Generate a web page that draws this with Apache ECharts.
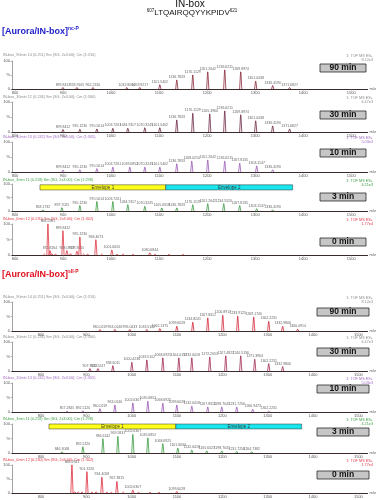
<!DOCTYPE html>
<html><head><meta charset="utf-8">
<script src="https://cdn.jsdelivr.net/npm/echarts@6/dist/echarts.min.js"></script>
<style>html,body{margin:0;padding:0;background:#fff}#c{width:377px;height:500px}</style>
</head><body><div id="c"></div>
<script>
// ---------- data ----------
const mzTicks = [800, 900, 1000, 1100, 1200, 1300, 1400, 1500];
const yTicks = [0, 50, 100];
const timeLabels = ['90 min', '30 min', '10 min', '3 min', '0 min'];
const envelopeNames = ['Envelope 1', 'Envelope 2'];

// [Aurora/IN-box]nc-P  (m/z, relative intensity %)
const nc90 = [[899.8412,5],[928.9105,5],[962.2316,5],[1032.8054,5],[1059.9217,5],[1101.5402,15],[1136.7833,32],[1170.1129,50],[1201.2642,61],[1236.6211,68],[1269.8974,61],[1301.0438,28],[1336.4190,12],[1371.6827,5]];
const nc30 = [[899.8412,8],[935.1230,9],[970.5014,10],[1003.7261,12],[1034.9117,12],[1070.3245,14],[1101.5402,14],[1136.7833,40],[1170.1129,62],[1205.3960,60],[1236.6211,70],[1269.8974,57],[1301.0438,37],[1336.4190,20],[1371.6827,10]];
const nc10 = [[899.8412,6],[935.1230,7],[970.5014,11],[1003.7261,16],[1039.0852,16],[1070.3245,16],[1101.5402,16],[1136.7833,27],[1168.0210,36],[1201.2642,40],[1236.6211,36],[1267.8135,29],[1303.1147,20],[1336.4190,7]];
const nc3 = [[858.1732,4],[897.7025,12],[935.1230,20],[970.5014,35],[1003.7261,35],[1034.9117,23],[1070.3245,17],[1105.6318,11],[1136.7833,11],[1170.1129,23],[1201.2642,27],[1234.5520,27],[1267.8135,20],[1303.1147,8],[1336.4190,4]];
const nc0 = [[868.5981,100],[872.8264,14],[899.8412,78],[908.0917,14],[928.9105,12],[935.1230,58],[968.4073,49],[1001.6620,16],[1080.6844,7]];
const nc0Minor = [[861.2,3],[876.5,4],[884.3,3],[915.6,4],[942.8,3],[951.2,3],[980.4,3],[1012.7,2],[1025.3,3],[1046.1,2],[1091.5,2],[1120.4,2],[1150.2,2]];
const ncEnvelopes = [[852.0,1113.9],[1113.9,1378.0]];

// [Aurora/IN-box]sII-P
const s90 = [[930.0219,5],[963.0146,5],[996.0433,5],[1033.5102,5],[1062.1375,8],[1099.6028,16],[1134.8241,30],[1167.8312,45],[1200.8917,54],[1233.9125,51],[1269.1740,48],[1302.2231,33],[1332.9806,16],[1366.0914,6]];
const s30 = [[907.9132,8],[925.5247,8],[958.6011,18],[1000.4236,30],[1033.5102,38],[1068.6925,45],[1104.0157,45],[1132.6418,45],[1172.2053,48],[1207.4827,52],[1240.5136,52],[1271.3904,40],[1302.2231,25],[1332.9806,15]];
const s10 = [[857.2845,3],[892.5120,4],[930.0219,11],[963.0146,24],[1002.6307,31],[1035.6852,37],[1068.6925,30],[1099.6028,24],[1132.6418,20],[1167.8312,17],[1198.7041,17],[1231.7256,17],[1266.9473,9],[1302.2231,3]];
const s3 = [[846.3068,4],[892.5120,21],[936.6142,49],[969.5831,57],[1002.6307,64],[1035.6852,52],[1068.6925,32],[1101.8034,17],[1132.6418,10],[1165.6027,7],[1198.7041,7],[1231.7256,5],[1264.7382,4]];
const s0 = [[868.2941,100],[901.3126,76],[934.4058,56],[967.3815,41],[1002.6307,10],[1099.6028,5]];
const s0Minor = [[874.5,4],[882.1,3],[890.6,3],[912.4,3],[921.8,4],[945.7,3],[955.3,2],[981.6,3],[1015.2,2],[1040.8,2],[1060.3,2]];
const sEnvelopes = [[817.6,1097.4],[1097.4,1374.9]];

// ---------- layout / style ----------
const FONT = 'Liberation Sans, Arial, sans-serif';
const GRAY = '#8c8c8c', PURPLE = '#a46cc4', GREEN = '#3f9f45', RED = '#e23a4a';
const panels = [
  {data:nc90, color:'#8a2a3a', head:GRAY,   hdr:55,  top:61,  base:89,  box:68,  g:0, t:0},
  {data:nc30, color:'#6e2a48', head:GRAY,   hdr:97,  top:102, base:132, box:115, g:0, t:1},
  {data:nc10, color:'#9a5cb8', head:PURPLE, hdr:137, top:142, base:172, box:153, g:0, t:2},
  {data:nc3,  color:'#3c9c44', head:GREEN,  hdr:180, top:184, base:211, box:197, g:0, t:3, env:ncEnvelopes, envY:[97,78]},
  {data:nc0,  color:'#e03848', head:RED,    hdr:219, top:224, base:255, box:242, g:0, t:4, minor:nc0Minor},
  {data:s90,  color:'#d22a3c', head:GRAY,   hdr:297, top:302, base:331, box:312, g:1, t:0},
  {data:s30,  color:'#a02a50', head:GRAY,   hdr:337, top:342, base:371, box:352, g:1, t:1},
  {data:s10,  color:'#9a5cb8', head:PURPLE, hdr:378, top:383, base:412, box:389, g:1, t:2},
  {data:s3,   color:'#3c9c44', head:GREEN,  hdr:419, top:424, base:453, box:432, g:1, t:3, env:sEnvelopes, envY:[100,83]},
  {data:s0,   color:'#e03040', head:RED,    hdr:460, top:465, base:493, box:475, g:1, t:4, minor:s0Minor}
];
const xRange = [[793.8, 1533.9], [736.1, 1520.2]];
const boxX = [[320, 46], [317, 52]];
const headLeft = ['IN-box_90min 14 (0.251) Sm (SG, 2x3.00); Cm (1:310)', 'IN-box_30min 12 (0.234) Sm (SG, 2x3.00); Cm (1:300)', 'IN-box_10min 13 (0.242) Sm (SG, 2x3.00); Cm (1:305)', 'IN-box_3min 11 (0.218) Sm (SG, 2x3.00); Cm (1:298)', 'IN-box_0min 12 (0.230) Sm (SG, 2x3.00); Cm (1:302)'];
const headRight = [['1: TOF MS ES+','8.12e3'],['1: TOF MS ES+','6.47e3'],['1: TOF MS ES+','5.03e3'],['1: TOF MS ES+','4.21e3'],['1: TOF MS ES+','1.77e4']];

function peakRender(color, labels) {
  return function (params, api) {
    const x = api.value(0), h = api.value(1);
    const b = api.coord([x, 0]), t = api.coord([x, h]);
    const ch = [{
      type: 'polyline',
      shape: {points: [[b[0] - 1.1, b[1]], [t[0] - 0.15, t[1]], [t[0] + 0.15, t[1]], [b[0] + 1.1, b[1]]]},
      style: {stroke: color, fill: null, lineWidth: 0.8}
    }];
    if (labels) ch.push({
      type: 'text', x: t[0], y: t[1] - 1,
      style: {text: x.toFixed(4), fontSize: 3.5, fontFamily: FONT, fill: '#666',
        align: 'center', verticalAlign: 'bottom', textAlign: 'center', textVerticalAlign: 'bottom'}
    });
    return {type: 'group', children: ch};
  };
}

function envRender(yLevels, names) {
  const fills = ['#ffff1a', '#1ae6ee'];
  return function (params, api) {
    const a = api.coord([api.value(0), yLevels[0]]);
    const b = api.coord([api.value(1), yLevels[1]]);
    const i = params.dataIndex;
    return {type: 'group', children: [
      {type: 'rect', shape: {x: a[0], y: a[1], width: b[0] - a[0], height: b[1] - a[1]},
        style: {fill: fills[i % 2], stroke: '#333', lineWidth: 0.5}},
      {type: 'text', x: (a[0] + b[0]) / 2, y: (a[1] + b[1]) / 2,
        style: {text: names[i], fontSize: 4.5, fontFamily: FONT, fill: '#333',
          align: 'center', verticalAlign: 'middle', textAlign: 'center', textVerticalAlign: 'middle'}}
    ]};
  };
}

const option = {animation: false, grid: [], xAxis: [], yAxis: [], series: [], graphic: []};
const G = option.graphic;
function txt(x, y, text, size, fill, opt) {
  G.push({type: 'text', x: x, y: y, silent: true,
    style: Object.assign({text: text, fontSize: size, fontFamily: FONT, fill: fill,
      align: 'left', verticalAlign: 'middle', textAlign: 'left', textVerticalAlign: 'middle'}, opt || {})});
}

panels.forEach((p, i) => {
  option.grid.push({left: 12, right: 9, top: p.top, height: p.base - p.top});
  option.xAxis.push({
    type: 'value', gridIndex: i, min: xRange[p.g][0], max: xRange[p.g][1],
    axisLine: {show: true, onZero: false, lineStyle: {color: '#3a2a2a', width: 1}},
    axisTick: {show: true, length: 1.5, customValues: mzTicks, lineStyle: {color: '#555', width: 0.5}},
    axisLabel: {show: true, customValues: mzTicks, fontSize: 4, fontFamily: FONT, color: '#555', margin: 2,
      formatter: v => String(v)},
    splitLine: {show: false},
    name: 'm/z', nameLocation: 'end', nameGap: 2, nameTextStyle: {fontSize: 4, color: '#555', fontFamily: FONT}
  });
  option.yAxis.push({
    type: 'value', gridIndex: i, min: 0, max: 100,
    axisLine: {show: true, lineStyle: {color: '#666', width: 0.6}},
    axisTick: {show: true, length: 1.5, customValues: yTicks, lineStyle: {color: '#666', width: 0.5}},
    axisLabel: {show: true, customValues: yTicks, fontSize: 4, fontFamily: FONT, color: '#555', margin: 2,
      formatter: v => (v === 50 ? '%' : String(v))},
    splitLine: {show: false}
  });
  option.series.push({type: 'custom', xAxisIndex: i, yAxisIndex: i, data: p.data, clip: false,
    encode: {x: 0, y: 1}, renderItem: peakRender(p.color, true), z: 3});
  if (p.minor) option.series.push({type: 'custom', xAxisIndex: i, yAxisIndex: i, data: p.minor, clip: false,
    encode: {x: 0, y: 1}, renderItem: peakRender(p.color, false), z: 2});
  if (p.env) option.series.push({type: 'custom', xAxisIndex: i, yAxisIndex: i, data: p.env, clip: false,
    encode: {x: [0, 1]}, renderItem: envRender(p.envY, envelopeNames), z: 1});

  txt(3, p.hdr, headLeft[p.t], 3.8, p.head);
  txt(373, p.hdr + 1, headRight[p.t][0], 3.8, p.head, {align: 'right', textAlign: 'right'});
  txt(373, p.hdr + 5, headRight[p.t][1], 3.8, p.head, {align: 'right', textAlign: 'right'});
  const bx = boxX[p.g];
  G.push({type: 'rect', silent: true, shape: {x: bx[0], y: p.box - 4, width: bx[1], height: 8},
    style: {fill: '#c6c6c6', stroke: '#2a2a2a', lineWidth: 0.8}});
  txt(bx[0] + bx[1] / 2, p.box, timeLabels[p.t], 8.5, '#111',
    {align: 'center', textAlign: 'center', fontWeight: 'bold'});
});

// titles (rich text keeps superscripts attached)
txt(190, 4, 'IN-box', 10, '#111', {align: 'center', textAlign: 'center'});
txt(192, 13, '{s|607}{m|LTQAIRQQYYKPIDV}{s|621}', 8, '#111', {align: 'center', textAlign: 'center',
  rich: {s: {fontSize: 4.5, fontFamily: FONT, fill: '#111', verticalAlign: 'top', lineHeight: 10, padding: [0, 0, 4, 0]},
         m: {fontSize: 8, fontFamily: FONT, fill: '#111', lineHeight: 10}}});
txt(2, 32, '{m|[Aurora/IN-box]}{s|nc-P}', 9, '#1c1cc8', {
  rich: {m: {fontSize: 9, fontWeight: 'bold', fontFamily: FONT, fill: '#1c1cc8', lineHeight: 11},
         s: {fontSize: 5, fontWeight: 'bold', fontFamily: FONT, fill: '#1c1cc8', verticalAlign: 'top', lineHeight: 11, padding: [0, 0, 5, 0]}}});
txt(2, 275, '{m|[Aurora/IN-box]}{s|sII-P}', 9, '#e0101e', {
  rich: {m: {fontSize: 9, fontWeight: 'bold', fontFamily: FONT, fill: '#e0101e', lineHeight: 11},
         s: {fontSize: 5, fontWeight: 'bold', fontFamily: FONT, fill: '#e0101e', verticalAlign: 'top', lineHeight: 11, padding: [0, 0, 5, 0]}}});

const chart = echarts.init(document.getElementById('c'), null, {renderer: 'canvas'});
chart.setOption(option);
</script>
</body></html>
